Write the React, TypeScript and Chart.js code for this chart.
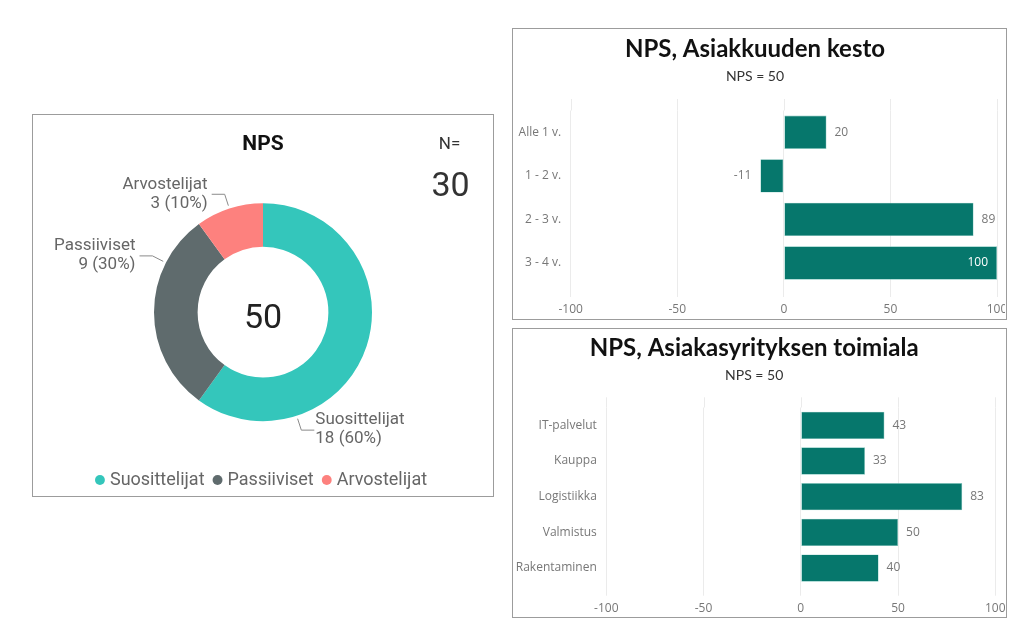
import { useEffect, useRef } from "react";
import { Chart, registerables } from "chart.js";

Chart.register(...registerables);

// NPS split (left doughnut)
const npsGroups = ["Suosittelijat", "Passiiviset", "Arvostelijat"];
const npsCounts = [18, 9, 3];
const npsColors = ["#34C6BB", "#5F6B6D", "#FD817E"];

// NPS by customer tenure
const tenureLabels = ["Alle 1 v.", "1 - 2 v.", "2 - 3 v.", "3 - 4 v."];
const tenureNps = [20, -11, 89, 100];

// NPS by customer industry
const industryLabels = ["IT-palvelut", "Kauppa", "Logistiikka", "Valmistus", "Rakentaminen"];
const industryNps = [43, 33, 83, 50, 40];

const axisMin = -100;
const axisMax = 100;
const axisStep = 50;

const totalAnswers = npsCounts.reduce((a, b) => a + b, 0);
const npsScore = Math.round(((npsCounts[0] - npsCounts[2]) / totalAnswers) * 100);

const barColor = "#06776C";
const gridColor = "#ebebeb";
const axisFont = { family: "'Open Sans'", size: 12 };

// leader lines + two-line labels outside the slices
const sliceLabels = {
  id: "sliceLabels",
  afterDatasetsDraw(chart: any, _args: any, opts: any) {
    const { ctx } = chart;
    const meta = chart.getDatasetMeta(0);
    const values = chart.data.datasets[0].data as number[];
    const total = values.reduce((a, b) => a + b, 0);
    ctx.save();
    meta.data.forEach((arc: any, i: number) => {
      const { x, y, startAngle, endAngle, outerRadius } = arc.getProps(
        ["x", "y", "startAngle", "endAngle", "outerRadius"],
        true
      );
      const a = startAngle + (endAngle - startAngle) * opts.anchor[i];
      const x0 = x + Math.cos(a) * (outerRadius + 3);
      const y0 = y + Math.sin(a) * (outerRadius + 3);
      const x1 = x + Math.cos(a) * (outerRadius + 15);
      const y1 = y + Math.sin(a) * (outerRadius + 15);
      const dir = Math.cos(a) < 0 ? -1 : 1;
      const x2 = x1 + dir * 13;
      ctx.strokeStyle = "#8a8a8a";
      ctx.lineWidth = 1;
      ctx.beginPath();
      ctx.moveTo(x0, y0);
      ctx.lineTo(x1, y1);
      ctx.lineTo(x2, y1);
      ctx.stroke();
      ctx.font = "17px Roboto";
      ctx.fillStyle = "#666";
      ctx.textBaseline = "middle";
      ctx.textAlign = dir < 0 ? "right" : "left";
      const tx = x2 + (dir < 0 ? -4 : 1);
      const pct = Math.round((values[i] / total) * 100);
      ctx.fillText(chart.data.labels[i], tx, y1 - 10);
      ctx.fillText(`${values[i]} (${pct}%)`, tx, y1 + 9);
    });
    ctx.restore();
  },
  afterDraw(chart: any) {
    const { ctx } = chart;
    const arc = chart.getDatasetMeta(0).data[0];
    ctx.save();
    ctx.textAlign = "center";
    ctx.textBaseline = "alphabetic";
    ctx.fillStyle = "#222";
    ctx.font = "34px Roboto";
    ctx.fillText(String(npsScore), arc.x, arc.y + 15.5);
    ctx.fillStyle = "#333";
    ctx.font = "17px Roboto";
    ctx.fillText("N=", chart.width - 43.5, 34.3);
    ctx.font = "34px Roboto";
    ctx.fillText(String(totalAnswers), chart.width - 42.5, 81);
    ctx.restore();
  },
};

// grid lines reach a little above the plot, as in the original
const gridTop = {
  id: "gridTop",
  beforeDatasetsDraw(chart: any, _args: any, opts: any) {
    const { ctx, chartArea } = chart;
    const xs = chart.scales.x;
    ctx.save();
    ctx.strokeStyle = gridColor;
    ctx.lineWidth = 1;
    xs.ticks.forEach((t: any) => {
      const px = Math.round(xs.getPixelForValue(t.value)) + 0.5;
      ctx.beginPath();
      ctx.moveTo(px, chartArea.top - opts.extend);
      ctx.lineTo(px, chartArea.top);
      ctx.stroke();
    });
    ctx.restore();
  },
};

// value labels at the bar ends
const valueLabels = {
  id: "valueLabels",
  afterDatasetsDraw(chart: any) {
    const { ctx, chartArea } = chart;
    const meta = chart.getDatasetMeta(0);
    const values = chart.data.datasets[0].data as number[];
    ctx.save();
    ctx.font = "12px 'Open Sans'";
    ctx.textBaseline = "middle";
    meta.data.forEach((bar: any, i: number) => {
      const v = values[i];
      const text = String(v);
      const w = ctx.measureText(text).width;
      if (v < 0) {
        ctx.textAlign = "right";
        ctx.fillStyle = "#777";
        ctx.fillText(text, bar.x - 9, bar.y);
      } else if (bar.x + 8 + w > chartArea.right) {
        ctx.textAlign = "right";
        ctx.fillStyle = "#fff";
        ctx.fillText(text, bar.x - 9, bar.y);
      } else {
        ctx.textAlign = "left";
        ctx.fillStyle = "#777";
        ctx.fillText(text, bar.x + 8, bar.y);
      }
    });
    ctx.restore();
  },
};

const DonutChart = () => {
  const chartRef = useRef<HTMLCanvasElement | null>(null);

  useEffect(() => {
    if (!chartRef.current) return;
    const chart = new Chart(chartRef.current, {
      type: "doughnut",
      data: {
        labels: npsGroups,
        datasets: [{ data: npsCounts, backgroundColor: npsColors, borderWidth: 0 }],
      },
      options: {
        animation: false,
        responsive: false,
        cutout: "60%",
        radius: 109,
        layout: { padding: 0 },
        plugins: {
          tooltip: { enabled: false },
          title: {
            display: true,
            text: "NPS",
            color: "#111",
            font: { family: "Roboto", size: 21, weight: "bold" },
            padding: { top: 16.7, bottom: 8.5 },
          },
          legend: {
            position: "bottom",
            labels: {
              usePointStyle: true,
              pointStyle: "circle",
              boxWidth: 2,
              boxHeight: 7,
              padding: 12,
              color: "#666",
              font: { family: "Roboto", size: 18 },
            },
          },
          sliceLabels: { anchor: [0.75, 0.75, 0.5] },
        } as any,
      },
      plugins: [sliceLabels],
    });
    return () => {
      chart.destroy();
    };
  }, []);

  return <canvas ref={chartRef} width={460} height={384}></canvas>;
};

interface BarPanelProps {
  title: string;
  labels: string[];
  values: number[];
  width: number;
  height: number;
  titlePad: { top: number; bottom: number };
  subtitleBottom: number;
  yWidth: number;
  xHeight: number;
  padRight: number;
  tickLength: number;
  tickPadding: number;
  gridExtend: number;
}

const BarPanel = (p: BarPanelProps) => {
  const chartRef = useRef<HTMLCanvasElement | null>(null);

  useEffect(() => {
    if (!chartRef.current) return;
    const chart = new Chart(chartRef.current, {
      type: "bar",
      data: {
        labels: p.labels,
        datasets: [
          {
            data: p.values,
            backgroundColor: barColor,
            borderColor: "#7fc4bc",
            borderWidth: 0.6,
            borderSkipped: false,
            barPercentage: 0.765,
            categoryPercentage: 1,
          },
        ],
      },
      options: {
        animation: false,
        responsive: false,
        indexAxis: "y",
        layout: { padding: { left: 0, right: p.padRight, top: 0, bottom: 0 } },
        plugins: {
          legend: { display: false },
          tooltip: { enabled: false },
          title: {
            display: true,
            text: p.title,
            color: "#111",
            font: { family: "Lato", size: 24, weight: "bold" },
            padding: p.titlePad,
          },
          subtitle: {
            display: true,
            text: `NPS = ${npsScore}`,
            color: "#333",
            font: { family: "Lato", size: 14 },
            padding: { top: 0, bottom: p.subtitleBottom },
          },
          gridTop: { extend: p.gridExtend },
        } as any,
        scales: {
          x: {
            min: axisMin,
            max: axisMax,
            ticks: { stepSize: axisStep, color: "#777", font: axisFont, padding: p.tickPadding },
            grid: { color: gridColor, tickColor: gridColor, tickLength: p.tickLength },
            border: { display: false },
            afterFit(scale: any) {
              scale.height = p.xHeight;
              scale.paddingLeft = 0;
              scale.paddingRight = 0;
            },
          },
          y: {
            grid: { display: false, drawTicks: false },
            border: { display: false },
            ticks: { color: "#777", font: axisFont, padding: 9.5 },
            afterFit(scale: any) {
              scale.width = p.yWidth;
            },
          },
        },
      },
      plugins: [gridTop, valueLabels],
    });
    return () => {
      chart.destroy();
    };
  }, []);

  return <canvas ref={chartRef} width={p.width} height={p.height}></canvas>;
};

const frame = (left: number, top: number, width: number, height: number) =>
  ({
    position: "absolute",
    left,
    top,
    width,
    height,
    boxSizing: "border-box",
    border: "1px solid #9c9c9c",
  }) as const;

const at = (left: number, top: number) => ({ position: "absolute", left, top }) as const;

export default function App() {
  return (
    <div style={{ position: "absolute", left: 0, top: 0, width: 1024, height: 640 }}>
      <div style={frame(32, 114, 462, 383)}></div>
      <div style={frame(512, 28, 495, 292)}></div>
      <div style={frame(512, 328, 495, 290)}></div>
      <div style={at(33, 115)}>
        <DonutChart />
      </div>
      <div style={at(513, 29)}>
        <BarPanel
          title="NPS, Asiakkuuden kesto"
          labels={tenureLabels}
          values={tenureNps}
          width={492}
          height={289}
          titlePad={{ top: 5.6, bottom: 4.5 }}
          subtitleBottom={25.8}
          yWidth={57.7}
          xHeight={33.2}
          padRight={8}
          tickLength={12.2}
          tickPadding={5.5}
          gridExtend={11.5}
        />
      </div>
      <div style={at(513, 329)}>
        <BarPanel
          title="NPS, Asiakasyrityksen toimiala"
          labels={industryLabels}
          values={industryNps}
          width={492}
          height={288}
          titlePad={{ top: 4.6, bottom: 4.9 }}
          subtitleBottom={23.4}
          yWidth={93.3}
          xHeight={31.1}
          padRight={9.7}
          tickLength={9.8}
          tickPadding={5.4}
          gridExtend={10.2}
        />
      </div>
    </div>
  );
}
